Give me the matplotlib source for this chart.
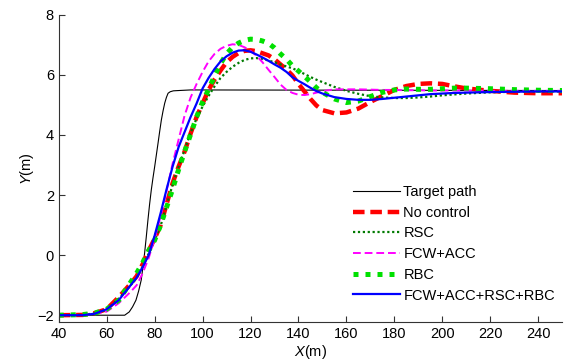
import matplotlib
matplotlib.use("Agg")
import matplotlib.pyplot as plt

plt.rcParams['font.family'] = ['Liberation Sans', 'DejaVu Sans']
plt.rcParams['mathtext.fontset'] = 'custom'
plt.rcParams['mathtext.rm'] = 'Liberation Sans'
plt.rcParams['mathtext.it'] = 'Liberation Sans:italic'

# target path
x_target = [40, 67.5, 69.4, 70.8, 72.2, 73.3, 74.4, 75.1, 75.8, 76.5, 77.2, 77.9, 78.6, 79.3, 80, 80.7,
            81.4, 82.1, 82.8, 83.5, 84.2, 84.9, 85.6, 86.5, 87.8, 90, 95, 250]
y_target = [-2.0, -2.0, -1.89, -1.72, -1.5, -1.2, -0.83, -0.4, 0.06, 0.6, 1.17, 1.7, 2.17, 2.57, 2.94, 3.33,
            3.72, 4.12, 4.5, 4.8, 5.06, 5.25, 5.39, 5.44, 5.47, 5.48, 5.5, 5.48]

# common x grid for the simulated vehicle paths
x_sim = [40, 50, 55, 60, 65, 70, 72.5, 75, 77.5, 80, 82.5, 85, 87.5, 90, 92.5, 95, 97.5,
         100, 102.5, 105, 107.5, 110, 112.5, 115, 117.5, 120, 122.5, 125, 127.5, 130,
         132.5, 135, 137.5, 140, 142.5, 145, 147.5, 150, 155, 160, 165, 170, 175, 180,
         185, 190, 195, 200, 205, 210, 220, 230, 240, 250]

y_nocontrol = [-2.0, -1.99, -1.93, -1.8, -1.4, -0.95, -0.7, -0.3, 0.15, 0.55, 1.0, 1.7, 2.4, 2.95, 3.45,
               4.05, 4.6, 5.05, 5.5, 5.85, 6.15, 6.42, 6.6, 6.73, 6.8, 6.82, 6.79, 6.72, 6.65, 6.52,
               6.35, 6.18, 5.98, 5.7, 5.45, 5.2, 4.98, 4.83, 4.72, 4.75, 4.88, 5.1, 5.3, 5.5,
               5.63, 5.7, 5.72, 5.7, 5.62, 5.55, 5.47, 5.41, 5.39, 5.39]

y_rsc = [-2.0, -1.99, -1.94, -1.82, -1.45, -1.0, -0.75, -0.38, 0.05, 0.5, 0.98, 1.65, 2.35, 2.95, 3.5,
         4.07, 4.55, 4.95, 5.3, 5.62, 5.9, 6.1, 6.27, 6.4, 6.5, 6.55, 6.56, 6.53, 6.48, 6.42,
         6.35, 6.28, 6.22, 6.13, 6.03, 5.93, 5.84, 5.76, 5.6, 5.47, 5.37, 5.29, 5.25, 5.23,
         5.23, 5.25, 5.28, 5.32, 5.35, 5.38, 5.42, 5.44, 5.45, 5.45]

y_fcwacc = [-2.0, -1.99, -1.96, -1.88, -1.6, -1.22, -1.0, -0.6, -0.1, 0.55, 1.3, 2.15, 3.05, 3.85, 4.65,
            5.25, 5.7, 6.1, 6.45, 6.7, 6.87, 6.97, 7.02, 7.0, 6.92, 6.8, 6.64, 6.42, 6.17, 5.93,
            5.68, 5.5, 5.4, 5.34, 5.33, 5.36, 5.41, 5.46, 5.52, 5.52, 5.52, 5.51, 5.5, 5.5,
            5.49, 5.49, 5.48, 5.48, 5.48, 5.48, 5.47, 5.47, 5.47, 5.47]

y_rbc = [-2.0, -1.98, -1.93, -1.8, -1.5, -0.9, -0.6, -0.25, 0.15, 0.5, 1.0, 1.6, 2.2, 2.85, 3.45,
         4.02, 4.6, 5.1, 5.52, 5.97, 6.38, 6.7, 6.92, 7.06, 7.15, 7.19, 7.18, 7.13, 7.05, 6.9,
         6.7, 6.52, 6.3, 6.13, 5.95, 5.77, 5.57, 5.42, 5.2, 5.08, 5.13, 5.28, 5.42, 5.5,
         5.53, 5.52, 5.52, 5.54, 5.56, 5.56, 5.54, 5.51, 5.49, 5.48]

y_all = [-2.0, -2.0, -1.95, -1.8, -1.5, -1.0, -0.75, -0.4, 0.0, 0.65, 1.4, 2.2, 2.95, 3.6, 4.1,
         4.6, 5.05, 5.55, 5.9, 6.2, 6.45, 6.62, 6.74, 6.81, 6.82, 6.77, 6.68, 6.58, 6.47, 6.35,
         6.24, 6.1, 5.92, 5.8, 5.69, 5.57, 5.46, 5.38, 5.26, 5.2, 5.17, 5.17, 5.2, 5.24,
         5.28, 5.32, 5.36, 5.38, 5.4, 5.41, 5.43, 5.44, 5.45, 5.45]

labels = ['Target path', 'No control', 'RSC', 'FCW+ACC', 'RBC', 'FCW+ACC+RSC+RBC']

fig = plt.figure(figsize=(5.65, 3.62), dpi=100)
ax = fig.add_axes([0.104, 0.111, 0.891, 0.848])

ax.plot(x_target, y_target, color='black', lw=0.8, label=labels[0])
ax.plot(x_sim, y_nocontrol, color='red', lw=3.2, ls=(0, (2.6, 1.3)), label=labels[1])
ax.plot(x_sim, y_rsc, color='#007a00', lw=1.6, ls=(0, (1, 1.2)), label=labels[2])
ax.plot(x_sim, y_fcwacc, color='magenta', lw=1.4, ls=(0, (4, 2)), label=labels[3])
ax.plot(x_sim, y_rbc, color='#00e000', lw=3.6, ls=(0, (1, 1.4)), label=labels[4])
ax.plot(x_sim, y_all, color='blue', lw=1.6, label=labels[5])

ax.set_xlim(40, 250)
ax.set_ylim(-2.22, 8)
ax.set_xticks(range(40, 241, 20))
ax.set_yticks(range(-2, 9, 2))
ax.tick_params(direction='in', length=4, labelsize=10.5, color='#333333')
ax.spines['top'].set_visible(False)
ax.spines['right'].set_visible(False)
for s in ['left', 'bottom']:
    ax.spines[s].set_color('#333333')

ax.set_xlabel(r'$\it{X}$(m)', fontsize=10.5, labelpad=2)
ax.set_ylabel(r'$\it{Y}$(m)', fontsize=10.5, labelpad=1)

ax.legend(loc='upper left', bbox_to_anchor=(353 / 565, 1 - 185 / 362), bbox_transform=fig.transFigure,
          frameon=False, fontsize=10.5, handlelength=3.2, handletextpad=0.25,
          labelspacing=0.46, borderpad=0, borderaxespad=0)

fig.savefig('out.png', dpi=100)
